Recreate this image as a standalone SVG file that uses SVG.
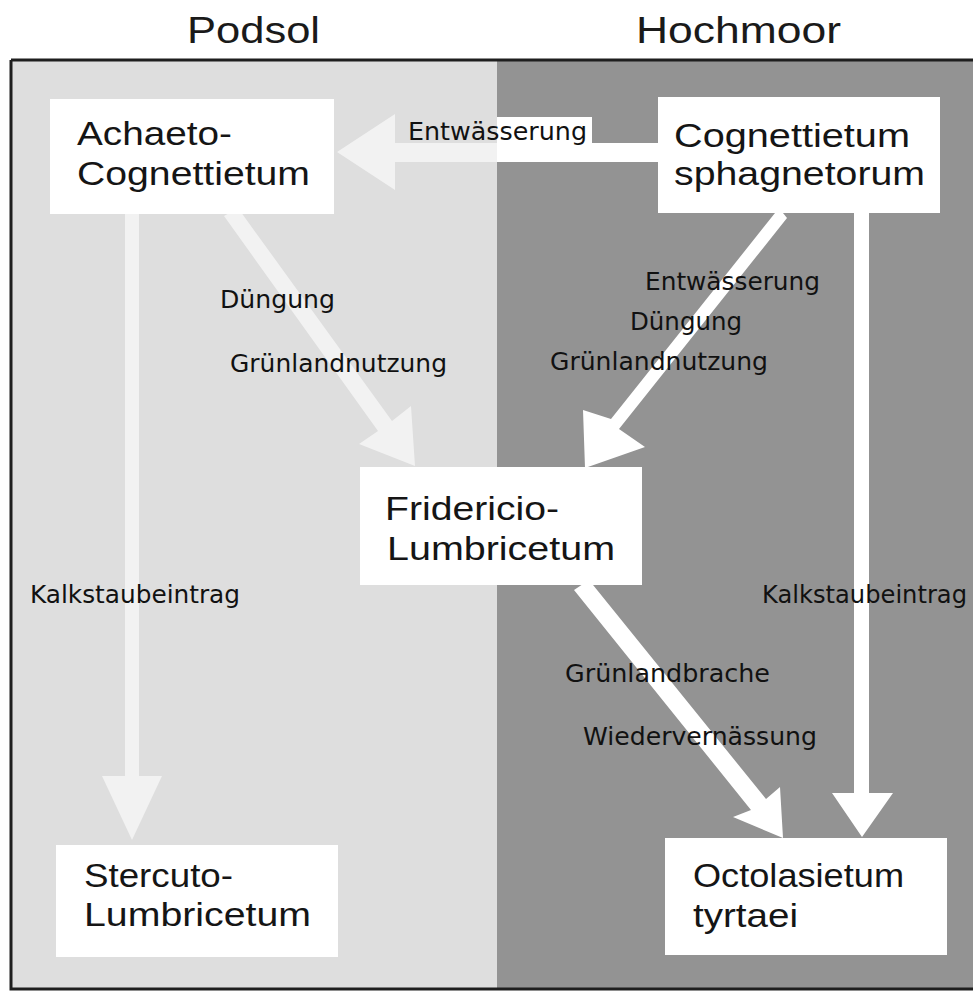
<svg xmlns="http://www.w3.org/2000/svg" width="973" height="992" viewBox="0 0 973 992">
<style>
.title{font-family:"Liberation Sans",Arial,sans-serif;font-size:37px;fill:#1a1a1a}
.node rect{fill:#ffffff}
.node text{font-family:"Liberation Sans",Arial,sans-serif;font-size:34px;fill:#151515}
.lbl{font-family:"DejaVu Sans","Liberation Sans",sans-serif;font-size:24px;fill:#111111}
.arr{fill:#ffffff}
.faint{fill:#ffffff;opacity:0.6}
</style>
<rect x="0" y="0" width="973" height="992" fill="#ffffff"/>
<g id="background">
<rect x="11" y="60" width="486" height="929" fill="#dedede"/>
<rect x="497" y="60" width="476" height="929" fill="#939393"/>
<path d="M11 60 H973 M11 60 V989 H973" fill="none" stroke="#1e1e1e" stroke-width="3"/>
</g>
<g id="titles">
<text class="title" x="187" y="43" textLength="133" lengthAdjust="spacingAndGlyphs">Podsol</text>
<text class="title" x="636" y="43" textLength="205" lengthAdjust="spacingAndGlyphs">Hochmoor</text>
</g>
<g id="connectors">
<polygon class="faint" points="658,143 395,143 395,114 337,152 395,190 395,162 658,162"/>
<rect class="arr" x="497" y="143" width="161" height="19"/>
<rect class="arr" x="497" y="117" width="95" height="28"/>
<polygon class="arr" points="787,218 779,208 611,419 583,410 585,468 645,447 619,429"/>
<polygon class="faint" points="224,216 238,208 392,421 411,406 415,466 359,444 378,431"/>
<polygon class="arr" points="574,590 589,580 766,799 780,787 783,838 733,817 751,810"/>
<polygon class="arr" points="854,213 869,213 869,793 893,793 862,837 832,793 854,793"/>
<polygon class="faint" points="125,214 139,214 139,776 162,776 132,840 102,776 125,776"/>
<text class="lbl" x="408" y="140" textLength="179" lengthAdjust="spacingAndGlyphs">Entwässerung</text>
<text class="lbl" x="220" y="308" textLength="115" lengthAdjust="spacingAndGlyphs">Düngung</text>
<text class="lbl" x="230" y="372" textLength="217" lengthAdjust="spacingAndGlyphs">Grünlandnutzung</text>
<text class="lbl" x="645" y="290" textLength="175" lengthAdjust="spacingAndGlyphs">Entwässerung</text>
<text class="lbl" x="630" y="330" textLength="112" lengthAdjust="spacingAndGlyphs">Düngung</text>
<text class="lbl" x="550" y="370" textLength="218" lengthAdjust="spacingAndGlyphs">Grünlandnutzung</text>
<text class="lbl" x="30" y="603" textLength="210" lengthAdjust="spacingAndGlyphs">Kalkstaubeintrag</text>
<text class="lbl" x="762" y="603" textLength="205" lengthAdjust="spacingAndGlyphs">Kalkstaubeintrag</text>
<text class="lbl" x="565" y="682" textLength="205" lengthAdjust="spacingAndGlyphs">Grünlandbrache</text>
<text class="lbl" x="583" y="745" textLength="234" lengthAdjust="spacingAndGlyphs">Wiedervernässung</text>
</g>
<g id="achaeto" class="node">
<rect x="50" y="99" width="284" height="115"/>
<text x="77" y="145" textLength="155" lengthAdjust="spacingAndGlyphs">Achaeto-</text>
<text x="77" y="185" textLength="233" lengthAdjust="spacingAndGlyphs">Cognettietum</text>
</g>
<g id="cognettietum" class="node">
<rect x="658" y="97" width="282" height="116"/>
<text x="674" y="147" textLength="236" lengthAdjust="spacingAndGlyphs">Cognettietum</text>
<text x="674" y="185" textLength="251" lengthAdjust="spacingAndGlyphs">sphagnetorum</text>
</g>
<g id="fridericio" class="node">
<rect x="360" y="467" width="282" height="118"/>
<text x="385" y="520" textLength="174" lengthAdjust="spacingAndGlyphs">Fridericio-</text>
<text x="387" y="560" textLength="228" lengthAdjust="spacingAndGlyphs">Lumbricetum</text>
</g>
<g id="stercuto" class="node">
<rect x="56" y="845" width="282" height="112"/>
<text x="84" y="887" textLength="149" lengthAdjust="spacingAndGlyphs">Stercuto-</text>
<text x="84" y="926" textLength="227" lengthAdjust="spacingAndGlyphs">Lumbricetum</text>
</g>
<g id="octolasietum" class="node">
<rect x="665" y="838" width="282" height="117"/>
<text x="693" y="887" textLength="211" lengthAdjust="spacingAndGlyphs">Octolasietum</text>
<text x="693" y="927" textLength="105" lengthAdjust="spacingAndGlyphs">tyrtaei</text>
</g>
</svg>
